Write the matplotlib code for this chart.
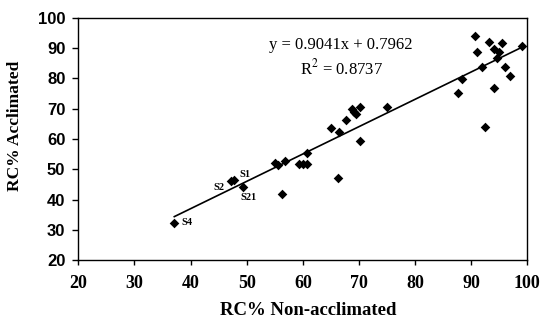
import matplotlib
matplotlib.use("Agg")
import matplotlib.pyplot as plt
import numpy as np

x_nonaccl = [37.1, 47.2, 47.8, 49.4, 55.1, 55.5, 56.8, 56.3, 59.4, 60.1, 60.8, 60.7,
             66.3, 65.0, 66.5, 67.7, 68.8, 69.2, 69.4, 70.2, 70.1, 75.0,
             87.6, 88.3, 90.7, 91.1, 91.9, 92.5, 93.1, 94.0, 94.1, 94.6, 95.0,
             95.5, 96.1, 96.9, 99.0]
y_accl = [32.1, 46.2, 46.4, 44.2, 52.2, 51.5, 52.8, 41.8, 51.8, 51.8, 51.8, 55.3,
          47.0, 63.5, 62.2, 66.3, 69.9, 69.0, 68.2, 70.5, 59.3, 70.5,
          75.1, 79.8, 94.2, 88.9, 83.9, 63.9, 92.2, 76.8, 89.8, 86.9, 88.9,
          91.6, 83.9, 80.9, 90.7]
slope, intercept = 0.9041, 0.7962
r2 = 0.8737
point_labels = ["S1", "S2", "S21", "S4"]
label_pos = [(49.7, 48.4), (45.1, 44.1), (50.3, 40.8), (39.4, 32.3)]

xticks = [20, 30, 40, 50, 60, 70, 80, 90, 100]
yticks = [20, 30, 40, 50, 60, 70, 80, 90, 100]

plt.rcParams['font.family'] = ['Liberation Serif', 'DejaVu Serif']
plt.rcParams['mathtext.fontset'] = 'stix'

fig = plt.figure(figsize=(5.42, 3.2), dpi=100)
ax = fig.add_axes([0.1445, 0.1875, 0.8285, 0.75625])

ax.scatter(x_nonaccl, y_accl, marker='D', s=24, color='black', zorder=3, linewidths=0)
xl = np.array([min(x_nonaccl), max(x_nonaccl)])
ax.plot(xl, slope * xl + intercept, color='black', lw=1.2)

for t, (lx, ly) in zip(point_labels, label_pos):
    ax.text(lx, ly, t, fontsize=7.5, fontweight='bold', ha='center', va='center')

ax.text(0.585, 0.888, f"y = {slope}x + {intercept}", transform=ax.transAxes,
        fontsize=12, ha='center', va='center')
ax.text(0.585, 0.793, f"R$^2$ = {r2}", transform=ax.transAxes,
        fontsize=12, ha='center', va='center')

ax.set_xlim(20, 100)
ax.set_ylim(20, 100)
ax.set_xticks(xticks)
ax.set_yticks(yticks)
ax.tick_params(direction='out', width=1)
ax.tick_params(axis='x', length=3.6, pad=7, labelsize=13)
ax.tick_params(axis='y', length=4.3, pad=5, labelsize=12)
for lab in ax.get_xticklabels():
    lab.set_fontweight('bold')
for lab in ax.get_yticklabels():
    lab.set_fontweight('bold')
    lab.set_family(['Liberation Sans', 'DejaVu Sans'])
for s in ax.spines.values():
    s.set_linewidth(1.0)

ax.set_xlabel("RC% Non-acclimated", fontsize=13.5, fontweight='bold', va='center')
ax.xaxis.set_label_coords(0.512, -0.21)
ax.set_ylabel("RC% Acclimated", fontsize=12.5, fontweight='bold', va='center')
ax.yaxis.set_label_coords(-0.141, 0.554)

fig.savefig("out.png", dpi=100)
